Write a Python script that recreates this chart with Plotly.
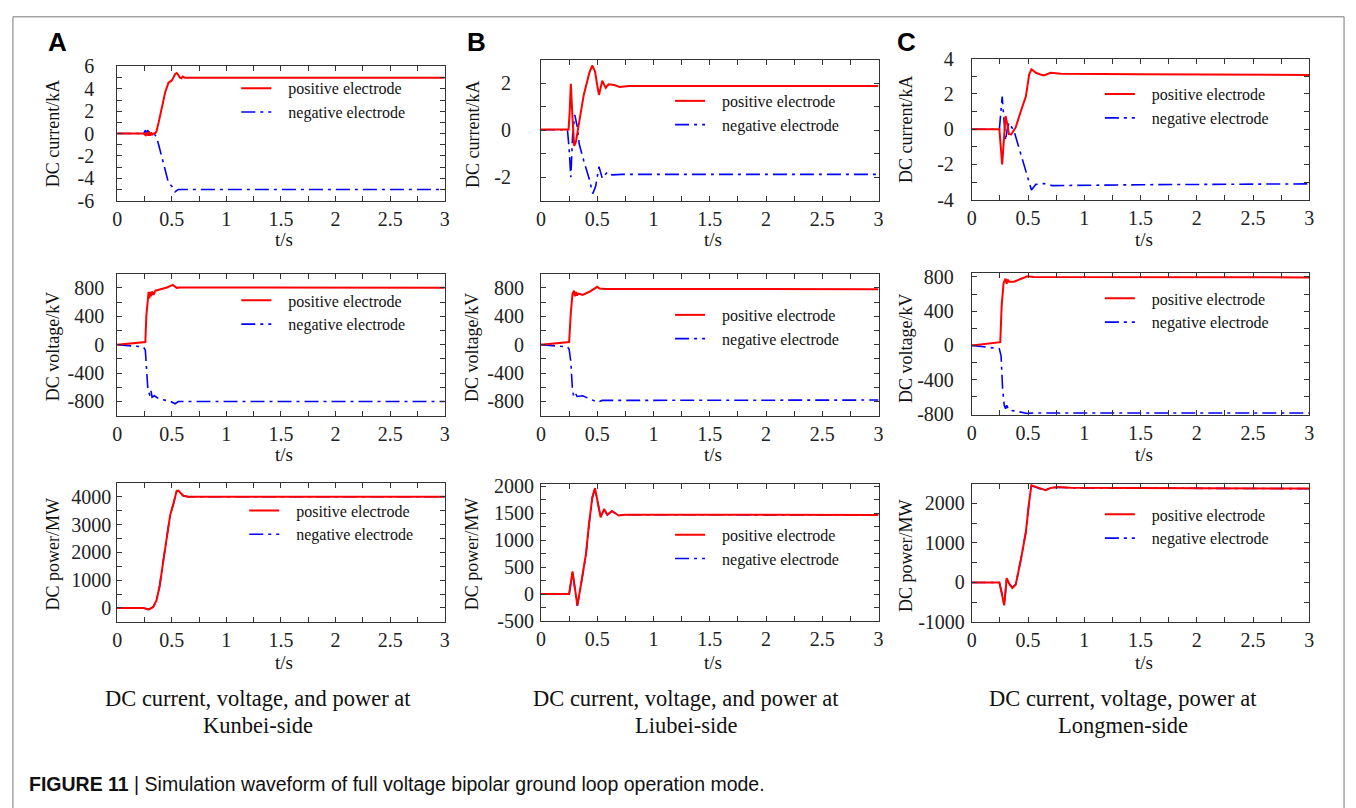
import plotly.graph_objects as go

# ---------------- data ----------------
# Kunbei-side DC current (kA)
kb_i_pos_t = [0, 0.24, 0.26, 0.27, 0.28, 0.29, 0.30, 0.31, 0.32, 0.33, 0.35, 0.36, 0.38, 0.41, 0.44, 0.47, 0.50, 0.515, 0.53, 0.545, 0.56, 0.575, 0.59, 0.60, 0.62, 0.64, 0.70, 3.0]
kb_i_pos = [0, 0, -0.15, 0.1, -0.2, 0.15, -0.2, 0.1, -0.15, 0.0, 0.05, 0.2, 1.0, 2.3, 3.7, 4.55, 4.75, 5.0, 5.3, 5.4, 5.25, 5.0, 4.95, 5.1, 5.0, 5.0, 5.0, 5.0]
kb_i_neg_t = [0, 0.24, 0.26, 0.27, 0.28, 0.30, 0.32, 0.34, 0.36, 0.38, 0.41, 0.44, 0.47, 0.50, 0.53, 0.545, 0.56, 0.60, 3.0]
kb_i_neg = [0, 0, 0.3, -0.1, 0.25, 0.1, 0.0, -0.05, -0.3, -1.0, -2.1, -3.3, -4.4, -4.7, -5.2, -5.1, -5.0, -5.0, -5.0]

# Liubei-side DC current (kA)
lb_i_pos_t = [0, 0.245, 0.255, 0.265, 0.28, 0.295, 0.31, 0.33, 0.35, 0.38, 0.40, 0.43, 0.455, 0.48, 0.50, 0.515, 0.53, 0.545, 0.56, 0.575, 0.60, 0.65, 0.70, 0.78, 3.0]
lb_i_pos = [0.03, 0.03, 0.8, 1.97, 0.5, -0.67, -0.5, 0.0, 0.65, 1.5, 1.9, 2.45, 2.75, 2.5, 1.9, 1.5, 1.8, 2.1, 1.95, 1.8, 1.95, 1.92, 1.84, 1.88, 1.88]
lb_i_neg_t = [0, 0.235, 0.25, 0.265, 0.28, 0.30, 0.32, 0.34, 0.38, 0.43, 0.46, 0.485, 0.515, 0.545, 0.59, 0.63, 0.72, 3.0]
lb_i_neg = [0.02, 0.02, -0.8, -2.0, -0.3, 0.65, 0.2, -0.6, -1.3, -2.1, -2.7, -2.4, -1.55, -2.05, -1.78, -1.9, -1.88, -1.88]

# Longmen-side DC current (kA)
lm_i_pos_t = [0, 0.245, 0.27, 0.285, 0.30, 0.315, 0.33, 0.35, 0.39, 0.435, 0.48, 0.51, 0.53, 0.55, 0.57, 0.61, 0.64, 0.70, 0.79, 1.5, 3.0]
lm_i_pos = [0, 0, -2.0, -0.5, 0.75, 0.3, -0.28, -0.3, 0.1, 1.0, 1.85, 3.1, 3.4, 3.3, 3.2, 3.1, 3.05, 3.2, 3.15, 3.12, 3.08]
lm_i_neg_t = [0, 0.245, 0.27, 0.285, 0.30, 0.315, 0.33, 0.375, 0.435, 0.48, 0.51, 0.53, 0.57, 0.64, 0.715, 1.5, 3.0]
lm_i_neg = [0, 0, 1.85, 0.3, -0.65, 0.0, 0.37, -0.1, -1.4, -2.3, -3.05, -3.45, -3.13, -3.08, -3.2, -3.15, -3.1]

# DC voltage (kV)
kb_v_pos_t = [0, 0.258, 0.267, 0.279, 0.288, 0.295, 0.30, 0.31, 0.32, 0.333, 0.35, 0.39, 0.455, 0.51, 0.545, 0.576, 3.0]
kb_v_pos = [0, 37, 400, 680, 745, 650, 740, 680, 750, 700, 760, 777, 805, 841, 800, 805, 800]
kb_v_neg_t = [0, 0.24, 0.258, 0.273, 0.28, 0.29, 0.30, 0.31, 0.32, 0.34, 0.39, 0.485, 0.53, 0.56, 3.0]
kb_v_neg = [0, -32, -78, -420, -600, -670, -720, -650, -740, -720, -768, -795, -832, -800, -800]

lb_v_pos_t = [0, 0.25, 0.265, 0.28, 0.294, 0.30, 0.31, 0.32, 0.33, 0.37, 0.43, 0.48, 0.50, 0.52, 0.574, 3.0]
lb_v_pos = [0, 37, 450, 720, 760, 680, 740, 690, 720, 700, 745, 790, 815, 790, 785, 780]
lb_v_neg_t = [0, 0.235, 0.25, 0.265, 0.28, 0.294, 0.31, 0.32, 0.37, 0.455, 0.50, 0.545, 3.0]
lb_v_neg = [0, -32, -64, -240, -650, -740, -695, -730, -720, -777, -810, -785, -780]

lm_v_pos_t = [0, 0.253, 0.265, 0.282, 0.30, 0.31, 0.318, 0.33, 0.376, 0.435, 0.494, 0.55, 3.0]
lm_v_pos = [0, 38, 455, 725, 780, 720, 770, 745, 745, 780, 808, 800, 795]
lm_v_neg_t = [0, 0.244, 0.26, 0.274, 0.288, 0.30, 0.31, 0.33, 0.376, 0.435, 0.494, 0.55, 3.0]
lm_v_neg = [0, -38, -123, -508, -700, -740, -700, -758, -765, -780, -795, -790, -790]

# DC power (MW)
kb_p_pos_t = [0, 0.24, 0.29, 0.33, 0.36, 0.39, 0.42, 0.455, 0.485, 0.515, 0.545, 0.56, 0.576, 0.606, 0.65, 3.0]
kb_p_pos = [0, 0, -50, 35, 270, 800, 1620, 2560, 3330, 3740, 4210, 4220, 4150, 4035, 4000, 4000]
kb_p_neg_t = [0, 0.24, 0.29, 0.33, 0.36, 0.39, 0.42, 0.455, 0.485, 0.515, 0.545, 0.56, 0.576, 0.606, 0.65, 3.0]
kb_p_neg = [0, 0, -50, 35, 280, 820, 1640, 2580, 3340, 3750, 4200, 4210, 4150, 4030, 4000, 4000]

lb_p_pos_t = [0, 0.25, 0.28, 0.30, 0.323, 0.353, 0.40, 0.426, 0.456, 0.48, 0.50, 0.53, 0.56, 0.59, 0.63, 0.69, 0.75, 3.0]
lb_p_pos = [0, 0, 420, 150, -210, 150, 750, 1290, 1800, 1970, 1745, 1425, 1580, 1475, 1545, 1460, 1475, 1470]
lb_p_neg_t = [0, 0.25, 0.28, 0.30, 0.323, 0.353, 0.40, 0.426, 0.456, 0.48, 0.50, 0.53, 0.56, 0.59, 0.63, 0.69, 0.75, 3.0]
lb_p_neg = [0, 0, 410, 150, -220, 140, 740, 1280, 1790, 1960, 1740, 1430, 1570, 1470, 1540, 1465, 1475, 1470]

lm_p_pos_t = [0, 0.245, 0.265, 0.288, 0.31, 0.33, 0.36, 0.39, 0.435, 0.48, 0.51, 0.53, 0.57, 0.61, 0.656, 0.70, 0.76, 0.88, 3.0]
lm_p_pos = [0, 0, -260, -580, 110, -20, -140, -60, 560, 1265, 2050, 2460, 2420, 2380, 2340, 2395, 2420, 2400, 2380]
lm_p_neg_t = [0, 0.245, 0.265, 0.288, 0.31, 0.33, 0.36, 0.39, 0.435, 0.48, 0.51, 0.53, 0.57, 0.61, 0.656, 0.70, 0.76, 0.88, 3.0]
lm_p_neg = [0, 0, -250, -570, 100, -20, -130, -50, 570, 1275, 2060, 2450, 2410, 2370, 2345, 2390, 2410, 2395, 2375]

series_names = ["positive electrode", "negative electrode"]
y_titles = ["DC current/kA", "DC voltage/kV", "DC power/MW"]
x_title = "t/s"
panel_letters = ["A", "B", "C"]
captions = [["DC current, voltage, and power at", "Kunbei-side"],
            ["DC current, voltage, and power at", "Liubei-side"],
            ["DC current, voltage, power at", "Longmen-side"]]
fig_caption_bold = "FIGURE 11"
fig_caption_rest = " | Simulation waveform of full voltage bipolar ground loop operation mode."

x_tickvals = [0, 0.25, 0.5, 0.75, 1, 1.25, 1.5, 1.75, 2, 2.25, 2.5, 2.75, 3]
x_ticktext = ["0", "", "0.5", "", "1", "", "1.5", "", "2", "", "2.5", "", "3"]

# y-axis definitions per panel: (range, tickvals, labelled values)
y_axes_def = {
    (0, 0): ([-6, 6], list(range(-6, 7)), [-6, -4, -2, 0, 2, 4, 6]),
    (0, 1): ([-3, 3], list(range(-3, 4)), [-2, 0, 2]),
    (0, 2): ([-4, 4], list(range(-4, 5)), [-4, -2, 0, 2, 4]),
    (1, 0): ([-1000, 1000], list(range(-1000, 1001, 200)), [-800, -400, 0, 400, 800]),
    (1, 1): ([-1000, 1000], list(range(-1000, 1001, 200)), [-800, -400, 0, 400, 800]),
    (1, 2): ([-810, 850], list(range(-800, 801, 200)), [-800, -400, 0, 400, 800]),
    (2, 0): ([-500, 4500], list(range(-500, 4501, 500)), [0, 1000, 2000, 3000, 4000]),
    (2, 1): ([-500, 2050], list(range(-500, 2001, 250)), [-500, 0, 500, 1000, 1500, 2000]),
    (2, 2): ([-1000, 2500], list(range(-1000, 2501, 500)), [-1000, 0, 1000, 2000]),
}

panel_data = {
    (0, 0): (kb_i_pos_t, kb_i_pos, kb_i_neg_t, kb_i_neg),
    (0, 1): (lb_i_pos_t, lb_i_pos, lb_i_neg_t, lb_i_neg),
    (0, 2): (lm_i_pos_t, lm_i_pos, lm_i_neg_t, lm_i_neg),
    (1, 0): (kb_v_pos_t, kb_v_pos, kb_v_neg_t, kb_v_neg),
    (1, 1): (lb_v_pos_t, lb_v_pos, lb_v_neg_t, lb_v_neg),
    (1, 2): (lm_v_pos_t, lm_v_pos, lm_v_neg_t, lm_v_neg),
    (2, 0): (kb_p_pos_t, kb_p_pos, kb_p_neg_t, kb_p_neg),
    (2, 1): (lb_p_pos_t, lb_p_pos, lb_p_neg_t, lb_p_neg),
    (2, 2): (lm_p_pos_t, lm_p_pos, lm_p_neg_t, lm_p_neg),
}

# ---------------- layout geometry (pixels) ----------------
W, H = 1356, 808
def PX(x): return x / W
def PY(y): return 1 - y / H

boxes = {  # left, right, top, bottom
    (0, 0): (113, 443, 57, 195), (0, 1): (540, 880, 50, 195), (0, 2): (974, 1314, 49, 194),
    (1, 0): (113, 443, 270, 416), (1, 1): (540, 880, 270, 416), (1, 2): (974, 1314, 269, 415),
    (2, 0): (113, 443, 485, 628), (2, 1): (540, 880, 486, 627), (2, 2): (974, 1314, 486, 628),
}
ylab_standoff = {(0, 0): 18, (0, 1): 25, (0, 2): 13, (1, 0): 8, (1, 1): 12, (1, 2): 13,
                 (2, 0): 1, (2, 1): 2, (2, 2): 2}
legend_pos = {  # line start x, first row centre y
    (0, 0): (238, 80), (0, 1): (675, 93), (0, 2): (1108, 86),
    (1, 0): (238, 298), (1, 1): (675, 313), (1, 2): (1108, 296),
    (2, 0): (246, 514), (2, 1): (675, 539), (2, 2): (1108, 518),
}
ytitle_pos = {
    (0, 0): (48, 126), (0, 1): (471, 127), (0, 2): (907, 122),
    (1, 0): (48, 345), (1, 1): (470, 346), (1, 2): (907, 346),
    (2, 0): (48, 559), (2, 1): (470, 559), (2, 2): (907, 560),
}
xtitle_y = {0: 235, 1: 456, 2: 670}

SERIF = "Liberation Serif"
SANS = "Liberation Sans"
AX = "#333333"
RED = "#ff0000"
BLUE = "#0000ff"
NB = "\u00a0" * 3

fig = go.Figure()
layout = dict(
    width=W, height=H, margin=dict(l=0, r=0, t=0, b=0),
    paper_bgcolor="white", plot_bgcolor="white", showlegend=True,
)
annotations = []

k = 0
for r in range(3):
    for c in range(3):
        k += 1
        key = (r, c)
        xa = "x" if k == 1 else f"x{k}"
        ya = "y" if k == 1 else f"y{k}"
        lg = "legend" if k == 1 else f"legend{k}"
        L, R, T, B = boxes[key]
        rng, tv, lab = y_axes_def[key]
        tt = [str(v) if v in lab else "" for v in tv]
        layout[("xaxis" if k == 1 else f"xaxis{k}")] = dict(
            domain=[PX(L), PX(R)], anchor=ya, range=[0, 3],
            tickvals=x_tickvals, ticktext=x_ticktext, ticks="inside", ticklen=5,
            tickcolor=AX, showline=True, linecolor=AX, linewidth=1, mirror="ticks",
            showgrid=False, zeroline=False, ticklabelstandoff=0,
            tickfont=dict(family=SERIF, size=20, color="#222222"),
        )
        layout[("yaxis" if k == 1 else f"yaxis{k}")] = dict(
            domain=[PY(B), PY(T)], anchor=xa, range=rng,
            tickvals=tv, ticktext=tt, ticks="inside", ticklen=5,
            tickcolor=AX, showline=True, linecolor=AX, linewidth=1, mirror="ticks",
            showgrid=False, zeroline=False, ticklabelstandoff=ylab_standoff[key],
            tickfont=dict(family=SERIF, size=20, color="#222222"),
        )
        pt, pv, nt, nv = panel_data[key]
        fig.add_trace(go.Scatter(x=nt, y=nv, mode="lines", name=NB + series_names[1],
                                 line=dict(color=BLUE, width=1.6, dash="14px,5px,3px,5px"),
                                 xaxis=xa, yaxis=ya, legend=lg))
        fig.add_trace(go.Scatter(x=pt, y=pv, mode="lines", name=NB + series_names[0],
                                 line=dict(color=RED, width=2),
                                 xaxis=xa, yaxis=ya, legend=lg))
        lx, ly = legend_pos[key]
        layout[lg] = dict(
            x=PX(lx - 5), y=PY(ly - 18), xanchor="left", yanchor="top",
            xref="paper", yref="paper", traceorder="reversed",
            bgcolor="rgba(0,0,0,0)", borderwidth=0, itemwidth=30,
            font=dict(family=SERIF, size=16, color="#111111"),
        )
        tx, tyy = ytitle_pos[key]
        annotations.append(dict(x=PX(tx), y=PY(tyy), xref="paper", yref="paper",
                                text=y_titles[r], textangle=-90, showarrow=False,
                                xanchor="center", yanchor="middle",
                                font=dict(family=SERIF, size=18, color="#111111")))
        annotations.append(dict(x=PX((L + R) / 2 + 3), y=PY(xtitle_y[r]), xref="paper", yref="paper",
                                text=x_title, showarrow=False, xanchor="center", yanchor="middle",
                                font=dict(family=SERIF, size=19, color="#111111")))

letter_x = [53, 475, 908]
cap_x = [255, 686, 1126]
for c in range(3):
    annotations.append(dict(x=PX(letter_x[c]), y=PY(32), xref="paper", yref="paper",
                            text=f"<b>{panel_letters[c]}</b>", showarrow=False,
                            xanchor="center", yanchor="middle",
                            font=dict(family=SANS, size=26, color="#000000")))
    annotations.append(dict(x=PX(cap_x[c]), y=PY(707), xref="paper", yref="paper",
                            text=captions[c][0], showarrow=False, xanchor="center", yanchor="middle",
                            font=dict(family=SERIF, size=22.5, color="#111111")))
    annotations.append(dict(x=PX(cap_x[c]), y=PY(734), xref="paper", yref="paper",
                            text=captions[c][1], showarrow=False, xanchor="center", yanchor="middle",
                            font=dict(family=SERIF, size=22.5, color="#111111")))

annotations.append(dict(x=PX(22), y=PY(795), xref="paper", yref="paper",
                        text=f"<b>{fig_caption_bold}</b>{fig_caption_rest}", showarrow=False,
                        xanchor="left", yanchor="middle",
                        font=dict(family=SANS, size=19.5, color="#111111")))

layout["annotations"] = annotations
layout["shapes"] = [dict(type="rect", xref="paper", yref="paper",
                         x0=PX(8), x1=PX(1349), y0=PY(830), y1=PY(6),
                         line=dict(color="#777777", width=1), fillcolor="rgba(0,0,0,0)", layer="below")]
fig.update_layout(**layout)
fig.write_html("out.html")
